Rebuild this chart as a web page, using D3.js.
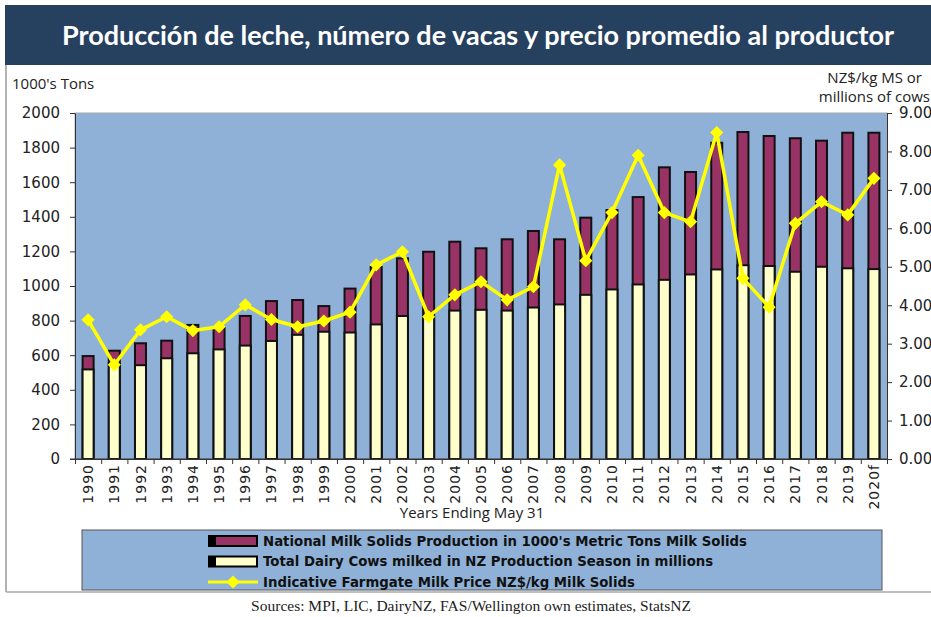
<!DOCTYPE html>
<html>
<head>
<meta charset="utf-8" />
<title>Producción de leche</title>
<script src="https://cdn.jsdelivr.net/npm/d3@7"></script>
<style>
  html, body { margin: 0; background: #fff; }
  svg { display: block; }
  .axis text { font-family: "DejaVu Sans", Verdana, sans-serif; font-size: 15px; fill: #222; }
  .axis path, .axis line { stroke: #333; }
  .legend text { font-family: "DejaVu Sans", Verdana, sans-serif; font-size: 13.3px; font-weight: bold; fill: #111; }
</style>
</head>
<body>
<div id="container"></div>
<script>
// years ending May 31
var years = ["1990","1991","1992","1993","1994","1995","1996","1997","1998","1999",
  "2000","2001","2002","2003","2004","2005","2006","2007","2008","2009",
  "2010","2011","2012","2013","2014","2015","2016","2017","2018","2019","2020f"];

// national milk solids production, 1000's tons (left axis)
var production = [595, 626, 669, 684, 775, 758, 827, 913, 919, 884,
  985, 1110, 1160, 1198, 1256, 1218, 1270, 1318, 1270, 1395,
  1439, 1514, 1686, 1659, 1828, 1890, 1867, 1854, 1840, 1886, 1886];

// dairy cows milked, millions (right axis)
var cows = [2.33, 2.48, 2.44, 2.62, 2.75, 2.85, 2.95, 3.07, 3.23, 3.31,
  3.29, 3.50, 3.72, 3.70, 3.86, 3.88, 3.86, 3.94, 4.02, 4.27,
  4.41, 4.54, 4.66, 4.80, 4.93, 5.04, 5.02, 4.87, 5.00, 4.96, 4.94];

// farmgate milk price NZ$/kg MS (right axis)
var price = [3.62, 2.45, 3.36, 3.70, 3.34, 3.44, 4.01, 3.63, 3.44, 3.59,
  3.82, 5.05, 5.39, 3.70, 4.27, 4.61, 4.14, 4.48, 7.65, 5.16,
  6.41, 7.90, 6.41, 6.17, 8.49, 4.70, 3.95, 6.13, 6.69, 6.35, 7.30];

var leftTicks = [0, 200, 400, 600, 800, 1000, 1200, 1400, 1600, 1800, 2000];
var rightTicks = [0, 1, 2, 3, 4, 5, 6, 7, 8, 9];

var legendItems = [
  "National Milk Solids Production in 1000's Metric Tons Milk Solids",
  "Total Dairy Cows milked in  NZ Production Season in millions",
  "Indicative Farmgate Milk Price NZ$/kg Milk Solids"
];

var W = 931, H = 617;
var plotL = 75, plotR = 887, plotT = 113, plotB = 459;
var blue = "#8fb1d8", maroon = "#993366", cream = "#ffffcc", yellow = "#ffff00";

var svg = d3.select("#container").append("svg")
    .attr("width", W)
    .attr("height", H);

svg.append("rect").attr("width", W).attr("height", H).attr("fill", "#fff");

// outer frame lines
svg.append("line").attr("x1", 6).attr("x2", 6).attr("y1", 65).attr("y2", 592)
    .attr("stroke", "#999").attr("stroke-width", 1.5);
svg.append("line").attr("x1", 6).attr("x2", W).attr("y1", 592).attr("y2", 592)
    .attr("stroke", "#aaa").attr("stroke-width", 1.5);

// title banner
svg.append("rect").attr("x", 5).attr("y", 5).attr("width", W - 5).attr("height", 60)
    .attr("fill", "#26405f");
svg.append("text")
    .attr("x", 478).attr("y", 45)
    .attr("text-anchor", "middle")
    .attr("fill", "#fff")
    .style("font-family", "Lato, 'Open Sans', sans-serif")
    .style("font-weight", "bold")
    .style("font-size", "27px")
    .text("Producción de leche, número de vacas y precio promedio al productor");

var x = d3.scaleBand().domain(years).range([plotL, plotR])
    .paddingInner(0.58).paddingOuter(0.29);
var xb = d3.scaleLinear().domain([0, years.length]).range([plotL, plotR]);
var yL = d3.scaleLinear().domain([0, 2000]).range([plotB, plotT]);
var yR = d3.scaleLinear().domain([0, 9]).range([plotB, plotT]);

// plot area
svg.append("rect")
    .attr("x", plotL).attr("y", plotT)
    .attr("width", plotR - plotL).attr("height", plotB - plotT)
    .attr("fill", blue).attr("stroke", "#aaa").attr("stroke-width", 1);

// production bars (left axis)
svg.append("g").selectAll("rect")
  .data(years)
  .join("rect")
    .attr("x", function(d) { return x(d); })
    .attr("width", x.bandwidth())
    .attr("y", function(d, i) { return yL(production[i]); })
    .attr("height", function(d, i) { return plotB - yL(production[i]); })
    .attr("fill", maroon).attr("stroke", "#111").attr("stroke-width", 2);

// cow bars (right axis), drawn over
svg.append("g").selectAll("rect")
  .data(years)
  .join("rect")
    .attr("x", function(d) { return x(d); })
    .attr("width", x.bandwidth())
    .attr("y", function(d, i) { return yR(cows[i]); })
    .attr("height", function(d, i) { return plotB - yR(cows[i]); })
    .attr("fill", cream).attr("stroke", "#111").attr("stroke-width", 2);

// axes
svg.append("g").attr("class", "axis")
    .attr("transform", "translate(" + plotL + ",0)")
    .call(d3.axisLeft(yL).tickValues(leftTicks).tickSize(5).tickPadding(10).tickSizeOuter(0)
      .tickFormat(d3.format("d")));
svg.append("g").attr("class", "axis")
    .attr("transform", "translate(" + plotR + ",0)")
    .call(d3.axisRight(yR).tickValues(rightTicks).tickSize(5).tickPadding(7).tickSizeOuter(0)
      .tickFormat(d3.format(".2f")));
svg.append("g").attr("class", "axis")
    .attr("transform", "translate(0," + plotB + ")")
    .call(d3.axisBottom(xb).tickValues(d3.range(years.length + 1)).tickSize(5)
      .tickFormat("").tickSizeOuter(0));
var gx = svg.append("g").attr("class", "axis")
    .attr("transform", "translate(0," + plotB + ")")
    .call(d3.axisBottom(x).tickSize(0));
gx.select(".domain").remove();
gx.selectAll("text")
    .attr("y", 0).attr("x", -5).attr("dy", "0.36em")
    .attr("transform", "rotate(-90)")
    .style("text-anchor", "end")
    .style("font-size", "14px")
    .style("letter-spacing", "1px");
svg.append("line").attr("x1", 70).attr("x2", plotR).attr("y1", plotB).attr("y2", plotB)
    .attr("stroke", "#333");

// price line
var line = d3.line()
    .x(function(d, i) { return x(years[i]) + x.bandwidth() / 2; })
    .y(function(d) { return yR(d); });
svg.append("path").datum(price)
    .attr("d", line)
    .attr("fill", "none").attr("stroke", yellow).attr("stroke-width", 3.5)
    .attr("stroke-linejoin", "round");
var diamond = d3.symbol().type(d3.symbolDiamond2).size(110);
svg.append("g").selectAll("path")
  .data(price)
  .join("path")
    .attr("transform", function(d, i) {
      return "translate(" + (x(years[i]) + x.bandwidth() / 2) + "," + yR(d) + ")";
    })
    .attr("d", diamond)
    .attr("fill", yellow);

// axis titles
var condensed = "'Liberation Sans Narrow', 'Open Sans', sans-serif";
svg.append("text").attr("x", 12).attr("y", 89)
    .style("font-family", condensed).style("font-size", "15px").attr("fill", "#222")
    .text("1000's Tons");
svg.append("text").attr("x", 922).attr("y", 83).attr("text-anchor", "end")
    .style("font-family", condensed).style("font-size", "15px").attr("fill", "#222")
    .text("NZ$/kg MS or");
svg.append("text").attr("x", 930).attr("y", 102).attr("text-anchor", "end")
    .style("font-family", condensed).style("font-size", "15px").attr("fill", "#222")
    .text("millions of cows");
svg.append("text").attr("x", 472).attr("y", 518).attr("text-anchor", "middle")
    .style("font-family", condensed).style("font-size", "15px").attr("fill", "#222")
    .text("Years Ending May 31");

// legend
var lg = svg.append("g").attr("class", "legend");
lg.append("rect").attr("x", 82).attr("y", 530).attr("width", 800).attr("height", 60)
    .attr("fill", blue).attr("stroke", "#555").attr("stroke-width", 1);
var rows = lg.selectAll("g.row")
  .data(legendItems)
  .join("g").attr("class", "row")
    .attr("transform", function(d, i) { return "translate(208," + (541 + i * 20.5) + ")"; });
rows.filter(function(d, i) { return i < 2; })
  .append("rect").attr("x", 0).attr("y", -6).attr("width", 50).attr("height", 12).attr("fill", "#000");
rows.filter(function(d, i) { return i < 2; })
  .append("rect").attr("x", 8).attr("y", -4).attr("width", 40).attr("height", 8)
    .attr("fill", function(d, i) { return i === 0 ? maroon : cream; });
var lineRow = rows.filter(function(d, i) { return i === 2; });
lineRow.append("line").attr("x1", 0).attr("x2", 50).attr("y1", 0).attr("y2", 0)
    .attr("stroke", yellow).attr("stroke-width", 3);
lineRow.append("path").attr("d", diamond).attr("transform", "translate(25,0)")
    .attr("fill", yellow);
rows.append("text").attr("x", 55).attr("dy", "0.36em").text(function(d) { return d; });

// source note
svg.append("text").attr("x", 471).attr("y", 611).attr("text-anchor", "middle")
    .style("font-family", "'Liberation Serif', 'Times New Roman', serif")
    .style("font-size", "15.5px").attr("fill", "#222")
    .text("Sources: MPI, LIC, DairyNZ, FAS/Wellington own estimates, StatsNZ");
</script>
</body>
</html>
